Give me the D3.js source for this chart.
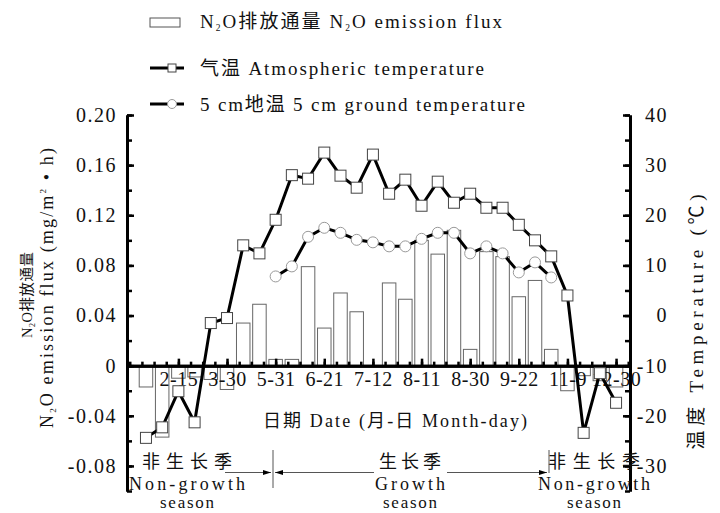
<!DOCTYPE html>
<html>
<head>
<meta charset="utf-8">
<script src="https://cdn.jsdelivr.net/npm/d3@7"></script>
<style>
  body { margin: 0; background: #fff; }
  text { font-family: "Liberation Serif", "Times New Roman", "Noto Sans CJK SC", serif; fill: #111; }
</style>
</head>
<body>
<svg id="chart" width="720" height="513"></svg>
<script>
const width = 720,
      height = 513;

// sampling dates: only every third one carries a label on the axis
const tickIdx = [2, 5, 8, 11, 14, 17, 20, 23, 26, 29];
const tickLabels = ["2-15", "3-30", "5-31", "6-21", "7-12", "8-11", "8-30", "9-22", "11-9", "12-30"];

// N2O emission flux (mg/m2·h), one value per sampling
const fluxVals = [-0.017, -0.057, -0.010, -0.009, -0.011, -0.019, 0.034, 0.049, 0.005, 0.005,
                  0.079, 0.030, 0.058, 0.043, 0, 0.066, 0.053, 0.100, 0.089, 0.108,
                  0.013, 0.091, 0.087, 0.055, 0.068, 0.013, -0.020, -0.008, -0.012, -0.017];

// air temperature (°C)
const airTemp = [-24.4, -22.3, -15.1, -21.3, -1.5, -0.5, 14.0, 12.4, 19.1, 28.0,
                 27.3, 32.5, 27.9, 25.5, 32.1, 24.3, 27.1, 21.9, 26.7, 22.5,
                 24.3, 21.5, 21.5, 18.1, 15.0, 11.8, 4.0, -23.4, -11.5, -17.4];

// 5 cm ground temperature (°C), only measured in the growth season
const soilTemp = [null, null, null, null, null, null, null, null, 7.8, 9.8,
                  15.7, 17.5, 16.5, 15.1, 14.6, 13.8, 13.8, 15.3, 16.5, 16.5,
                  12.4, 13.8, 12.4, 8.6, 10.6, 7.6, null, null, null, null];

// axis ticks
const leftTicks = [-0.08, -0.04, 0, 0.04, 0.08, 0.12, 0.16, 0.20];
const rightTicks = [-30, -20, -10, 0, 10, 20, 30, 40];

const svg = d3.select("#chart");

const x = d3.scaleLinear().domain([-1.17, 29.86]).range([127, 630]);
const yL = d3.scaleLinear().domain([-0.1, 0.2]).range([491, 115]);
const yR = d3.scaleLinear().domain([-35, 40]).range([491, 115]);
const y0 = yL(0);
const idx = d3.range(fluxVals.length);

// bars (open rectangles)
const bw = 13.5;
svg.append("g")
  .selectAll("rect")
  .data(idx)
  .join("rect")
  .attr("x", i => x(i) - bw / 2)
  .attr("y", i => yL(Math.max(0, fluxVals[i])))
  .attr("width", bw)
  .attr("height", i => Math.abs(yL(fluxVals[i]) - y0))
  .attr("fill", "none")
  .attr("stroke", "#666")
  .attr("stroke-width", 1);

// axes
function styleAxis(g, tickW) {
  g.select(".domain").attr("stroke", "#000").attr("stroke-width", 3);
  g.selectAll(".tick line").attr("stroke", "#000").attr("stroke-width", tickW);
  g.selectAll(".tick text")
    .style("font-family", '"Liberation Serif", serif')
    .style("font-size", "20px")
    .style("letter-spacing", "1.5px")
    .attr("fill", "#111");
}
const fmtL = d => d === 0 ? "0" : d.toFixed(2);

// left minor + major
svg.append("g").attr("transform", "translate(127,0)")
  .call(d3.axisLeft(yL).tickValues(d3.range(-0.1, 0.201, 0.02)).tickSize(-5).tickSizeOuter(0).tickFormat(""))
  .call(g => styleAxis(g, 2.5));
svg.append("g").attr("transform", "translate(127,0)")
  .call(d3.axisLeft(yL).tickValues(leftTicks).tickSize(-7).tickPadding(10).tickSizeOuter(0).tickFormat(fmtL))
  .call(g => styleAxis(g, 2.5));

// right minor + major
svg.append("g").attr("transform", "translate(630,0)")
  .call(d3.axisRight(yR).tickValues(d3.range(-35, 40.1, 5)).tickSize(-5).tickSizeOuter(0).tickFormat(""))
  .call(g => styleAxis(g, 2.5));
svg.append("g").attr("transform", "translate(630,0)")
  .call(d3.axisRight(yR).tickValues(rightTicks).tickSize(-7).tickSizeOuter(0).tickFormat(d => String(d)))
  .call(g => styleAxis(g, 2.5))
  .call(g => g.selectAll(".tick text").attr("x", 38).attr("text-anchor", "end"));

// x axis on the zero line
svg.append("g").attr("transform", `translate(0,${y0})`)
  .call(d3.axisBottom(x).tickValues(d3.range(-1, 29.9, 0.75)).tickSize(-4).tickSizeOuter(0).tickFormat(""))
  .call(g => styleAxis(g, 2.5));
svg.append("g").attr("transform", `translate(0,${y0})`)
  .call(d3.axisBottom(x).tickValues(tickIdx).tickSize(-7).tickPadding(6).tickSizeOuter(0)
    .tickFormat((d, i) => tickLabels[i]))
  .call(g => styleAxis(g, 2.5))
  .call(g => g.selectAll(".tick text").style("letter-spacing", "0.5px"));

// lines
const airLine = d3.line().x((d, i) => x(i)).y(d => yR(d));
const soilLine = d3.line().defined(d => d != null).x((d, i) => x(i)).y(d => yR(d));

svg.append("path").datum(soilTemp)
  .attr("d", soilLine).attr("fill", "none").attr("stroke", "#000").attr("stroke-width", 3);
svg.append("path").datum(airTemp)
  .attr("d", airLine).attr("fill", "none").attr("stroke", "#000").attr("stroke-width", 3);

// markers
svg.append("g").selectAll("circle")
  .data(idx.filter(i => soilTemp[i] != null))
  .join("circle")
  .attr("cx", i => x(i)).attr("cy", i => yR(soilTemp[i])).attr("r", 5.5)
  .attr("fill", "#fff").attr("stroke", "#999").attr("stroke-width", 1);

const sq = 11;
svg.append("g").selectAll("rect")
  .data(idx)
  .join("rect")
  .attr("x", i => x(i) - sq / 2).attr("y", i => yR(airTemp[i]) - sq / 2)
  .attr("width", sq).attr("height", sq)
  .attr("fill", "#fff").attr("stroke", "#444").attr("stroke-width", 1);

// helper: text with a subscript "2" after N
function n2o(sel, size) {
  sel.append("tspan").text("N");
  sel.append("tspan").text("2").style("font-size", (size * 0.5) + "px").attr("dy", 3);
  sel.append("tspan").text("O").attr("dy", -3);
}

// legend
const lg = svg.append("g").style("font-size", "19px");
lg.append("rect").attr("x", 150).attr("y", 18).attr("width", 30).attr("height", 9)
  .attr("fill", "#fff").attr("stroke", "#555");
const t1 = lg.append("text").attr("x", 200).attr("y", 28).attr("textLength", 302).attr("lengthAdjust", "spacing");
n2o(t1, 19);
t1.append("tspan").text("排放通量 ");
n2o(t1, 19);
t1.append("tspan").text(" emission flux");

lg.append("line").attr("x1", 150).attr("x2", 184).attr("y1", 68).attr("y2", 68)
  .attr("stroke", "#000").attr("stroke-width", 3);
lg.append("rect").attr("x", 168).attr("y", 64).attr("width", 8).attr("height", 8)
  .attr("fill", "#fff").attr("stroke", "#444");
lg.append("text").attr("x", 200).attr("y", 75).attr("textLength", 284).attr("lengthAdjust", "spacing")
  .text("气温 Atmospheric temperature");

lg.append("line").attr("x1", 150).attr("x2", 184).attr("y1", 104).attr("y2", 104)
  .attr("stroke", "#000").attr("stroke-width", 3);
lg.append("circle").attr("cx", 172).attr("cy", 104).attr("r", 4.5)
  .attr("fill", "#fff").attr("stroke", "#999");
lg.append("text").attr("x", 200).attr("y", 111).attr("textLength", 325).attr("lengthAdjust", "spacing")
  .text("5 cm地温 5 cm ground temperature");

// axis titles
const yt1 = svg.append("text").attr("transform", "translate(32,295) rotate(-90)")
  .attr("text-anchor", "middle").style("font-size", "14.5px")
  .attr("textLength", 86).attr("lengthAdjust", "spacing");
n2o(yt1, 16);
yt1.append("tspan").text("排放通量");

const yt2 = svg.append("text").attr("transform", "translate(53,288) rotate(-90)")
  .attr("text-anchor", "middle").style("font-size", "18px")
  .attr("textLength", 280).attr("lengthAdjust", "spacing");
n2o(yt2, 18);
yt2.append("tspan").text(" emission flux (mg/m");
yt2.append("tspan").text("2").style("font-size", "9px").attr("dy", -7);
yt2.append("tspan").text(" • h)").attr("dy", 7);

svg.append("text").attr("transform", "translate(703,322) rotate(-90)")
  .attr("text-anchor", "middle").style("font-size", "19px")
  .attr("textLength", 255).attr("lengthAdjust", "spacing")
  .text("温度 Temperature (℃)");

svg.append("text").attr("x", 395).attr("y", 427)
  .attr("text-anchor", "middle").style("font-size", "18px")
  .attr("textLength", 264).attr("lengthAdjust", "spacing")
  .text("日期 Date (月-日 Month-day)");

// season annotation
const seasons = [
  { cn: "非生长季", cnW: 90, en: "Non-growth", enW: 116, cx: 187 },
  { cn: "生长季", cnW: 62, en: "Growth", enW: 70, cx: 410 },
  { cn: "非生长季", cnW: 92, en: "Non-growth", enW: 112, cx: 594 }
];
const sg = svg.append("g").style("font-size", "18px");
seasons.forEach(s => {
  sg.append("text").attr("x", s.cx).attr("y", 468).attr("text-anchor", "middle")
    .attr("textLength", s.cnW).attr("lengthAdjust", "spacing").attr("fill", "#333").text(s.cn);
  sg.append("text").attr("x", s.cx).attr("y", 490).attr("text-anchor", "middle")
    .attr("textLength", s.enW).attr("lengthAdjust", "spacing").text(s.en);
  sg.append("text").attr("x", s.cx).attr("y", 508).attr("text-anchor", "middle")
    .style("font-size", "17px")
    .attr("textLength", 54).attr("lengthAdjust", "spacing").text("season");
});

// arrows between season labels
const ay = 472.5;
const segs = [[225, 271], [275, 374], [447, 547]];
segs.forEach(([a, b]) => {
  sg.append("line").attr("x1", a).attr("x2", b).attr("y1", ay).attr("y2", ay)
    .attr("stroke", "#555").attr("stroke-width", 1);
});
const arrow = (tipX, dir) => {
  const p = d3.path();
  p.moveTo(tipX, ay);
  p.lineTo(tipX - dir * 8, ay - 2.5);
  p.lineTo(tipX - dir * 8, ay + 2.5);
  p.closePath();
  sg.append("path").attr("d", p.toString()).attr("fill", "#000");
};
arrow(271, 1);
arrow(275, -1);
arrow(547, 1);
sg.append("line").attr("x1", 273).attr("x2", 273).attr("y1", 450).attr("y2", 488)
  .attr("stroke", "#555").attr("stroke-width", 1);
sg.append("line").attr("x1", 549).attr("x2", 549).attr("y1", 450).attr("y2", 473)
  .attr("stroke", "#555").attr("stroke-width", 1);
</script>
</body>
</html>
